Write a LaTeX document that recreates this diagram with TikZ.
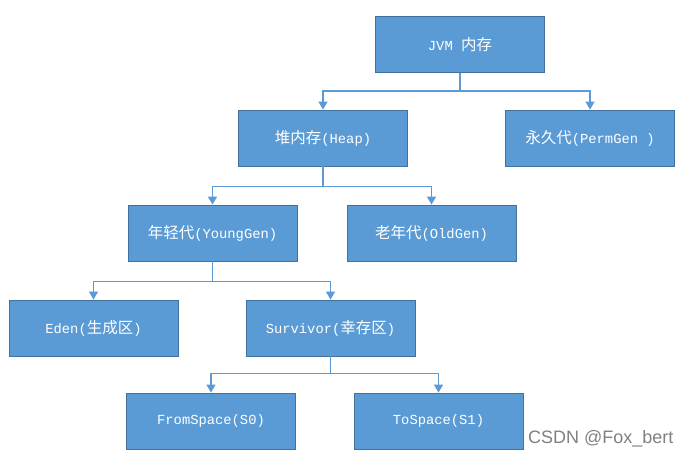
\documentclass[tikz,border=0pt]{standalone}
\usepackage{fontspec}
\setmainfont{Liberation Mono}
\newfontfamily\cjk{Noto Sans CJK SC}
\newfontfamily\marksans{Liberation Sans}
\usetikzlibrary{arrows.meta}
\definecolor{myblue}{RGB}{91,155,213}
\definecolor{mydarkblue}{RGB}{65,113,156}
\definecolor{mygray}{RGB}{128,128,128}
\newcommand{\zh}[1]{{\cjk\fontsize{15.5}{18}\selectfont #1}}
\newcommand{\widthbox}{169pt}
\newcommand{\heightbox}{56pt}
\tikzset{
    area/.style={draw=mydarkblue, fill=myblue, rectangle, line width=0.8pt,
        minimum width=\widthbox, minimum height=\heightbox, inner sep=0pt,
        text=white, font=\fontsize{13.8}{16}\selectfont},
    link/.style={draw=myblue, line width=1.4pt,
        -{Triangle[length=8pt, width=9pt]}}
}
\begin{document}
\begin{tikzpicture}[x=1pt, y=1pt]
    \useasboundingbox (0,0) rectangle (690,-458);

    \node[area] (jvm)   at (460,-44.5) {JVM \zh{内存}};
    \node[area] (heap)  at (323,-138)  {\zh{堆内存}(Heap)};
    \node[area] (perm)  at (590,-138)  {\zh{永久代}(PermGen )};
    \node[area] (young) at (212.5,-233) {\zh{年轻代}(YoungGen)};
    \node[area] (old)   at (431.5,-233) {\zh{老年代}(OldGen)};
    \node[area] (eden)  at (93.5,-328) {Eden(\zh{生成区})};
    \node[area] (surv)  at (330.5,-328) {Survivor(\zh{幸存区})};
    \node[area] (from)  at (211,-421)  {FromSpace(S0)};
    \node[area] (to)    at (438.5,-421) {ToSpace(S1)};

    \node[anchor=south west, inner sep=0pt, text=mygray,
        font=\marksans\fontsize{18}{20}\selectfont] (mark) at (528,-447) {CSDN @Fox\_bert};

    \draw[link] (jvm.south) -- ++(0,-18) -| (heap.north);
    \draw[link] (jvm.south) -- ++(0,-18) -| (perm.north);
    \draw[link] (heap.south) -- ++(0,-20) -| (young.north);
    \draw[link] (heap.south) -- ++(0,-20) -| (old.north);
    \draw[link] (young.south) -- ++(0,-20) -| (eden.north);
    \draw[link] (young.south) -- ++(0,-20) -| (surv.north);
    \draw[link] (surv.south) -- ++(0,-17) -| (from.north);
    \draw[link] (surv.south) -- ++(0,-17) -| (to.north);
\end{tikzpicture}
\end{document}
